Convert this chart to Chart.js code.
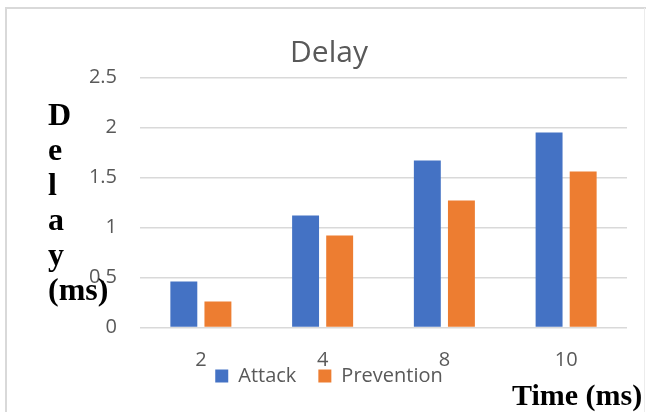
<!DOCTYPE html>
<html>
<head>
<meta charset="utf-8">
<script src="https://cdn.jsdelivr.net/npm/chart.js@4/dist/chart.umd.min.js"></script>
<style>
  html, body { margin: 0; padding: 0; background: #ffffff; }
  #wrap { position: relative; width: 646px; height: 412px; }
</style>
</head>
<body>
<div id="wrap"><canvas id="chart"></canvas></div>
<script>
// Delay per time setting, attack vs. prevention
const categories = ['2', '4', '8', '10'];
const attackDelay = [0.46, 1.12, 1.67, 1.95];
const preventionDelay = [0.26, 0.92, 1.27, 1.56];
const yTicks = [0, 0.5, 1, 1.5, 2, 2.5];
const yTitleLines = ['D', 'e', 'l', 'a', 'y', '(ms)'];
const xTitle = 'Time (ms)';

const GREY_TEXT = '#595959';
const GRID = '#d9d9d9';

// Frame around the chart plus the serif axis captions
const decorations = {
  id: 'decorations',
  afterLayout(chart) {
    // legend sits tight under the axis; keep the category labels' clip box tall enough
    const x = chart.scales.x;
    x.bottom = x.top + 50;
  },
  beforeDraw(chart) {
    const ctx = chart.ctx;
    ctx.save();
    ctx.fillStyle = '#ffffff';
    ctx.fillRect(0, 0, chart.width, chart.height);
    ctx.strokeStyle = GRID;
    ctx.lineWidth = 2;
    ctx.beginPath();
    ctx.moveTo(6, chart.height + 5);
    ctx.lineTo(6, 8);
    ctx.lineTo(chart.width, 8);
    ctx.stroke();
    ctx.strokeStyle = '#ececec';
    ctx.lineWidth = 1;
    ctx.beginPath();
    ctx.moveTo(644.5, 8);
    ctx.lineTo(644.5, chart.height);
    ctx.stroke();
    ctx.restore();
  },
  afterDraw(chart) {
    const ctx = chart.ctx;
    ctx.save();
    ctx.fillStyle = '#000000';
    ctx.textAlign = 'left';
    ctx.textBaseline = 'alphabetic';
    ctx.font = 'bold 32px "Liberation Serif"';
    yTitleLines.forEach((line, i) => {
      ctx.fillText(line, 48, 125 + i * 35);
    });
    ctx.font = 'bold 30px "Liberation Serif"';
    ctx.fillText(xTitle, 512, 405);
    ctx.restore();
  }
};

new Chart(document.getElementById('chart'), {
  type: 'bar',
  data: {
    labels: categories,
    datasets: [
      { label: 'Attack', data: attackDelay, backgroundColor: '#4472c4', borderWidth: 0 },
      { label: 'Prevention', data: preventionDelay, backgroundColor: '#ed7d31', borderWidth: 0 }
    ]
  },
  options: {
    responsive: true,
    maintainAspectRatio: false,
    animation: false,
    devicePixelRatio: 1,
    categoryPercentage: 0.56,
    barPercentage: 0.79,
    layout: { padding: { left: 31, right: 19, top: 0, bottom: 16 } },
    plugins: {
      title: {
        display: true,
        text: 'Delay',
        color: GREY_TEXT,
        font: { family: '"Open Sans"', size: 30, weight: 'normal' },
        padding: { top: 35, bottom: 6.5 }
      },
      legend: {
        position: 'bottom',
        labels: {
          color: GREY_TEXT,
          font: { family: '"Open Sans"', size: 20 },
          boxWidth: 13,
          boxHeight: 13,
          padding: 22
        }
      },
      tooltip: { enabled: false }
    },
    scales: {
      x: {
        grid: { display: false, drawTicks: false },
        border: { display: false },
        ticks: {
          color: GREY_TEXT,
          font: { family: '"Open Sans"', size: 20 },
          padding: 21,
          maxRotation: 0
        },
        afterFit(scale) { scale.height = 16.5; }
      },
      y: {
        min: 0,
        max: 2.5,
        grid: { color: GRID, lineWidth: 1.5, drawTicks: false },
        border: { display: false },
        ticks: {
          color: GREY_TEXT,
          font: { family: '"Open Sans"', size: 20 },
          padding: 23,
          callback: (value) => String(value)
        },
        afterBuildTicks(scale) { scale.ticks = yTicks.map(v => ({ value: v })); },
        afterFit(scale) { scale.width = 109; }
      }
    }
  },
  plugins: [decorations]
});
</script>
</body>
</html>
